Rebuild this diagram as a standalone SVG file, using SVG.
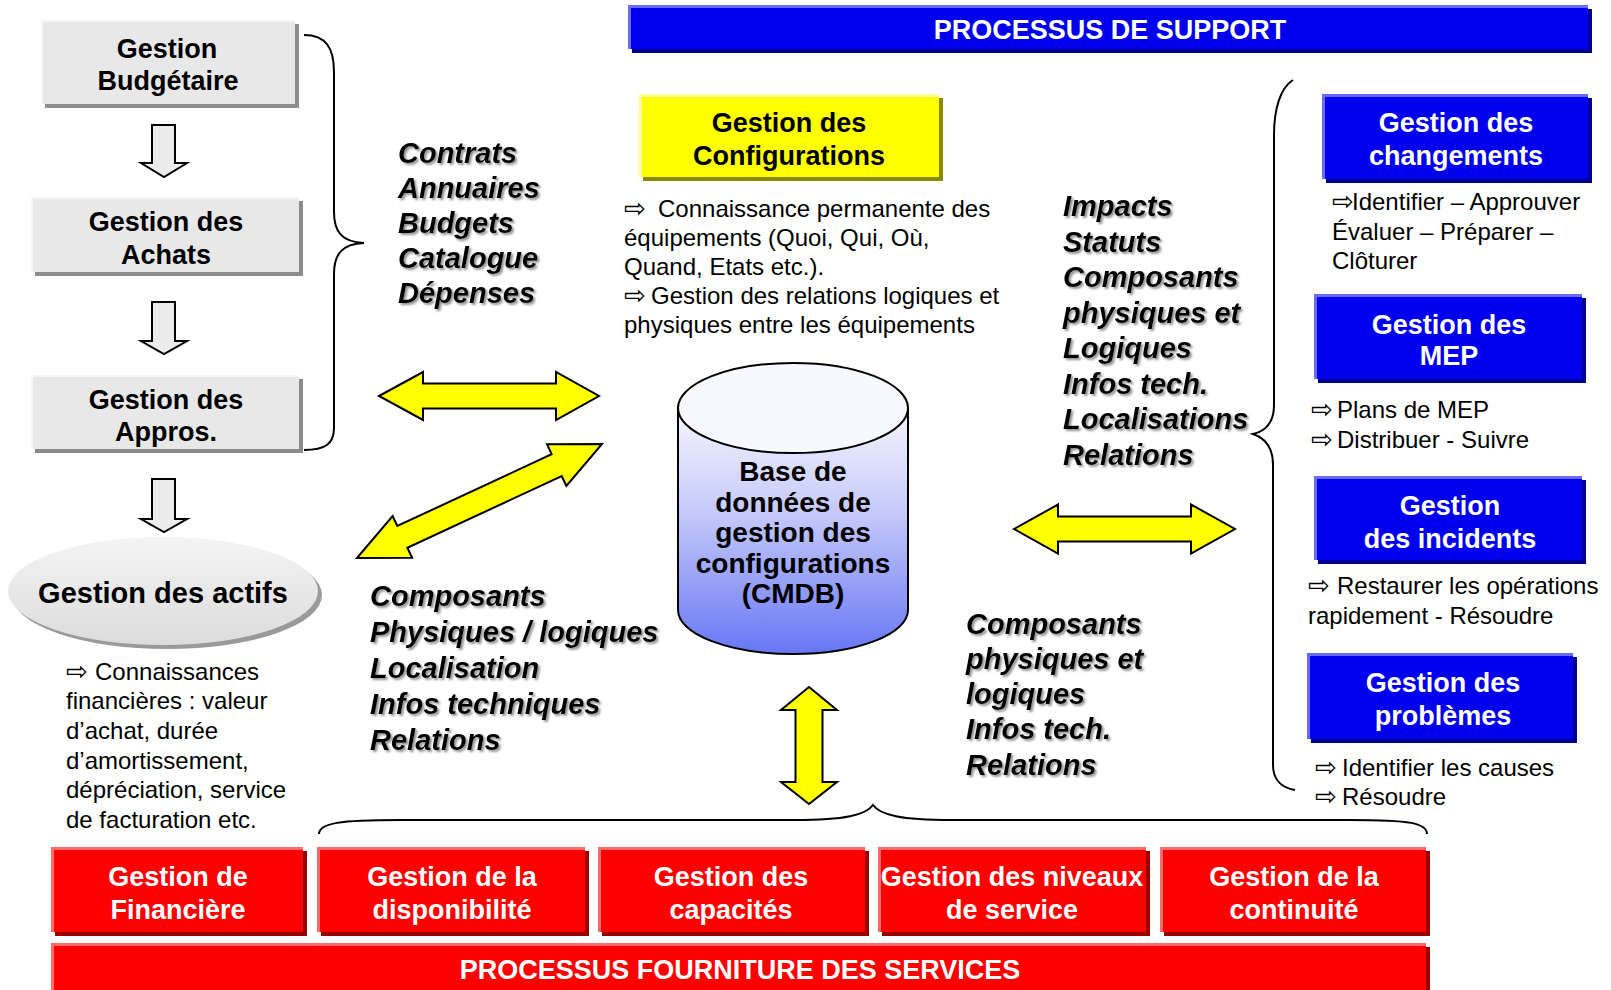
<svg xmlns="http://www.w3.org/2000/svg" width="1611" height="990" viewBox="0 0 1611 990">
<defs>
<style>
text{font-family:"Liberation Sans",Arial,sans-serif;fill:#000}
.nb{font-weight:bold;font-size:27px;text-anchor:middle}
.w{fill:#fff}
.it{font-weight:bold;font-style:italic;font-size:29px}
.p{font-size:24px}
.ar{font-family:"DejaVu Sans",sans-serif;font-size:26px}
.brace{fill:none;stroke:#000;stroke-width:2}
.yarrow{fill:#ffff00;stroke:#000;stroke-width:2;stroke-linejoin:miter}
.garrow{fill:#ececec;stroke:#000;stroke-width:2}
.gbox{fill:#e8e8e8}
.gsh{fill:#8c8c8c}
.glt{fill:none;stroke:#f6f6f6;stroke-width:2}
.bbox{fill:#0000ee}
.bsh{fill:#000090}
.blt{fill:none;stroke:#6a6aff;stroke-width:3}
.rbox{fill:#ff0000}
.rsh{fill:#990000}
.rlt{fill:none;stroke:#ff6a6a;stroke-width:3}
.ybox{fill:#ffff00}
.ysh{fill:#8a8a00}
.ylt{fill:none;stroke:#ffff99;stroke-width:3}
</style>
<filter id="tsh" x="-10%" y="-10%" width="130%" height="130%">
<feDropShadow dx="2" dy="2" stdDeviation="1" flood-color="#777" flood-opacity="0.8"/>
</filter>
<linearGradient id="cyl" gradientUnits="userSpaceOnUse" x1="0" y1="400" x2="0" y2="655">
<stop offset="0" stop-color="#fafaff"/>
<stop offset="0.45" stop-color="#c4c8fa"/>
<stop offset="1" stop-color="#6676f4"/>
</linearGradient>
<linearGradient id="ell" x1="0" y1="0" x2="0" y2="1">
<stop offset="0" stop-color="#f4f4f4"/>
<stop offset="1" stop-color="#dcdcdc"/>
</linearGradient>
</defs>
<rect width="1611" height="990" fill="#fff"/>

<!-- Support header -->
<g id="support-header">
<rect class="bsh" x="632" y="9" width="960" height="44"/>
<rect class="bbox" x="628" y="5" width="960" height="44"/>
<polyline class="blt" points="629.5,49 629.5,6.5 1588,6.5"/>
<text class="nb w" x="1110" y="39">PROCESSUS DE SUPPORT</text>
</g>

<!-- Left column -->
<g id="gestion-budgetaire">
<rect class="gsh" x="45" y="24" width="254" height="84"/>
<rect class="gbox" x="41" y="20" width="254" height="84"/>
<polyline class="glt" points="42,104 42,21 295,21"/>
<text class="nb" x="167" y="58">Gestion</text>
<text class="nb" x="168" y="90">Budgétaire</text>
</g>
<g id="gestion-achats">
<rect class="gsh" x="35" y="201" width="268" height="75"/>
<rect class="gbox" x="31" y="197" width="268" height="75"/>
<polyline class="glt" points="32,272 32,198 299,198"/>
<text class="nb" x="166" y="231">Gestion des</text>
<text class="nb" x="166" y="264">Achats</text>
</g>
<g id="gestion-appros">
<rect class="gsh" x="35" y="379" width="268" height="74"/>
<rect class="gbox" x="31" y="375" width="268" height="74"/>
<polyline class="glt" points="32,449 32,376 299,376"/>
<text class="nb" x="166" y="409">Gestion des</text>
<text class="nb" x="166" y="441">Appros.</text>
</g>
<g id="gestion-actifs">
<ellipse cx="167" cy="595" rx="155" ry="54" fill="#9a9a9a"/>
<ellipse cx="163" cy="591" rx="155" ry="54" fill="url(#ell)"/>
<text class="nb" x="163" y="603" style="font-size:29px">Gestion des actifs</text>
</g>
<g id="actifs-notes">
<text class="p" x="66" y="680"><tspan class="ar">⇨</tspan><tspan x="95">Connaissances</tspan></text>
<text class="p" x="66" y="709">financières : valeur</text>
<text class="p" x="66" y="739">d’achat, durée</text>
<text class="p" x="66" y="769">d’amortissement,</text>
<text class="p" x="66" y="798">dépréciation, service</text>
<text class="p" x="66" y="828">de facturation etc.</text>
</g>

<g id="flux-contrats" filter="url(#tsh)">
<text class="it" x="398" y="163">Contrats</text>
<text class="it" x="398" y="198">Annuaires</text>
<text class="it" x="398" y="233">Budgets</text>
<text class="it" x="398" y="268">Catalogue</text>
<text class="it" x="398" y="303">Dépenses</text>
</g>

<!-- Configurations -->
<g id="gestion-configurations">
<rect class="ysh" x="643" y="98" width="300" height="83"/>
<rect class="ybox" x="639" y="94" width="300" height="83"/>
<polyline class="ylt" points="640.5,177 640.5,95.5 939,95.5"/>
<text class="nb" x="789" y="132">Gestion des</text>
<text class="nb" x="789" y="165">Configurations</text>
</g>
<g id="configurations-notes">
<text class="p" x="624" y="217"><tspan class="ar">⇨</tspan><tspan x="658">Connaissance permanente des</tspan></text>
<text class="p" x="624" y="246">équipements (Quoi, Qui, Où,</text>
<text class="p" x="624" y="275">Quand, Etats etc.).</text>
<text class="p" x="624" y="304"><tspan class="ar">⇨</tspan><tspan x="651">Gestion des relations logiques et</tspan></text>
<text class="p" x="624" y="333">physiques entre les équipements</text>
</g>

<g id="cmdb">
<path d="M678,408 L678,610 A115,44 0 0 0 908,610 L908,408 Z" fill="url(#cyl)" stroke="#000" stroke-width="2"/>
<ellipse cx="793" cy="408" rx="115" ry="45" fill="#f8f8ff" stroke="#000" stroke-width="2"/>
<text class="nb" x="793" y="481" style="font-size:28px">Base de</text>
<text class="nb" x="793" y="512" style="font-size:28px">données de</text>
<text class="nb" x="793" y="542" style="font-size:28px">gestion des</text>
<text class="nb" x="793" y="573" style="font-size:28px">configurations</text>
<text class="nb" x="793" y="603" style="font-size:28px">(CMDB)</text>
</g>

<g id="flux-impacts" filter="url(#tsh)">
<text class="it" x="1063" y="216">Impacts</text>
<text class="it" x="1063" y="252">Statuts</text>
<text class="it" x="1063" y="287">Composants</text>
<text class="it" x="1063" y="323">physiques et</text>
<text class="it" x="1063" y="358">Logiques</text>
<text class="it" x="1063" y="394">Infos tech.</text>
<text class="it" x="1063" y="429">Localisations</text>
<text class="it" x="1063" y="465">Relations</text>
</g>
<g id="flux-composants-gauche" filter="url(#tsh)">
<text class="it" x="370" y="606">Composants</text>
<text class="it" x="370" y="642">Physiques / logiques</text>
<text class="it" x="370" y="678">Localisation</text>
<text class="it" x="370" y="714">Infos techniques</text>
<text class="it" x="370" y="750">Relations</text>
</g>
<g id="flux-composants-droite" filter="url(#tsh)">
<text class="it" x="966" y="634">Composants</text>
<text class="it" x="966" y="669">physiques et</text>
<text class="it" x="966" y="704">logiques</text>
<text class="it" x="966" y="739">Infos tech.</text>
<text class="it" x="966" y="775">Relations</text>
</g>

<!-- Right column -->
<g id="gestion-changements">
<rect class="bsh" x="1326" y="98" width="266" height="85"/>
<rect class="bbox" x="1322" y="94" width="266" height="85"/>
<polyline class="blt" points="1323.5,179 1323.5,95.5 1588,95.5"/>
<text class="nb w" x="1456" y="132">Gestion des</text>
<text class="nb w" x="1456" y="165">changements</text>
</g>
<g id="changements-notes">
<text class="p" x="1332" y="210"><tspan class="ar">⇨</tspan><tspan x="1352">Identifier – Approuver</tspan></text>
<text class="p" x="1332" y="240">Évaluer – Préparer –</text>
<text class="p" x="1332" y="269">Clôturer</text>
</g>
<g id="gestion-mep">
<rect class="bsh" x="1318" y="298" width="268" height="85"/>
<rect class="bbox" x="1314" y="294" width="268" height="85"/>
<polyline class="blt" points="1315.5,379 1315.5,295.5 1582,295.5"/>
<text class="nb w" x="1449" y="334">Gestion des</text>
<text class="nb w" x="1449" y="365">MEP</text>
</g>
<g id="mep-notes">
<text class="p" x="1311" y="418"><tspan class="ar">⇨</tspan><tspan x="1337">Plans de MEP</tspan></text>
<text class="p" x="1311" y="448"><tspan class="ar">⇨</tspan><tspan x="1337">Distribuer - Suivre</tspan></text>
</g>
<g id="gestion-incidents">
<rect class="bsh" x="1318" y="480" width="268" height="84"/>
<rect class="bbox" x="1314" y="476" width="268" height="84"/>
<polyline class="blt" points="1315.5,560 1315.5,477.5 1582,477.5"/>
<text class="nb w" x="1450" y="515">Gestion</text>
<text class="nb w" x="1450" y="548">des incidents</text>
</g>
<g id="incidents-notes">
<text class="p" x="1308" y="594"><tspan class="ar">⇨</tspan><tspan x="1337">Restaurer les opérations</tspan></text>
<text class="p" x="1308" y="624">rapidement - Résoudre</text>
</g>
<g id="gestion-problemes">
<rect class="bsh" x="1311" y="657" width="266" height="86"/>
<rect class="bbox" x="1307" y="653" width="266" height="86"/>
<polyline class="blt" points="1308.5,739 1308.5,654.5 1573,654.5"/>
<text class="nb w" x="1443" y="692">Gestion des</text>
<text class="nb w" x="1443" y="725">problèmes</text>
</g>
<g id="problemes-notes">
<text class="p" x="1315" y="776"><tspan class="ar">⇨</tspan><tspan x="1342">Identifier les causes</tspan></text>
<text class="p" x="1315" y="805"><tspan class="ar">⇨</tspan><tspan x="1342">Résoudre</tspan></text>
</g>

<!-- Service delivery -->
<g id="gestion-financiere">
<rect class="rsh" x="55" y="851" width="252" height="85"/>
<rect class="rbox" x="51" y="847" width="252" height="85"/>
<polyline class="rlt" points="52.5,932 52.5,848.5 303,848.5"/>
<text class="nb w" x="178" y="886">Gestion de</text>
<text class="nb w" x="178" y="919">Financière</text>
</g>
<g id="gestion-disponibilite">
<rect class="rsh" x="321" y="851" width="268" height="85"/>
<rect class="rbox" x="317" y="847" width="268" height="85"/>
<polyline class="rlt" points="318.5,932 318.5,848.5 585,848.5"/>
<text class="nb w" x="452" y="886">Gestion de la</text>
<text class="nb w" x="452" y="919">disponibilité</text>
</g>
<g id="gestion-capacites">
<rect class="rsh" x="602" y="851" width="267" height="85"/>
<rect class="rbox" x="598" y="847" width="267" height="85"/>
<polyline class="rlt" points="599.5,932 599.5,848.5 865,848.5"/>
<text class="nb w" x="731" y="886">Gestion des</text>
<text class="nb w" x="731" y="919">capacités</text>
</g>
<g id="gestion-niveaux-service">
<rect class="rsh" x="882" y="851" width="268" height="85"/>
<rect class="rbox" x="878" y="847" width="268" height="85"/>
<polyline class="rlt" points="879.5,932 879.5,848.5 1146,848.5"/>
<text class="nb w" x="1012" y="886">Gestion des niveaux</text>
<text class="nb w" x="1012" y="919">de service</text>
</g>
<g id="gestion-continuite">
<rect class="rsh" x="1164" y="851" width="266" height="85"/>
<rect class="rbox" x="1160" y="847" width="266" height="85"/>
<polyline class="rlt" points="1161.5,932 1161.5,848.5 1426,848.5"/>
<text class="nb w" x="1294" y="886">Gestion de la</text>
<text class="nb w" x="1294" y="919">continuité</text>
</g>
<g id="fourniture-services">
<rect class="rsh" x="55" y="947" width="1375" height="50"/>
<rect class="rbox" x="51" y="943" width="1375" height="50"/>
<polyline class="rlt" points="52.5,993 52.5,944.5 1426,944.5"/>
<text class="nb w" x="740" y="979">PROCESSUS FOURNITURE DES SERVICES</text>
</g>

<!-- Connectors -->
<g id="connectors">
<polygon class="garrow" points="152,125 175,125 175,163 187,163 164,177 141,163 152,163"/>
<polygon class="garrow" points="152,302 175,302 175,341 187,341 164,354 141,341 152,341"/>
<polygon class="garrow" points="152,479 175,479 175,519 187,519 164,532 141,519 152,519"/>
<path class="brace" d="M304,35 C326,35 334,48 334,72 L334,212 C334,232 342,242 364,243 C342,244 334,254 334,274 L334,428 C334,444 325,450 304,450"/>
<path class="brace" d="M1293,80 C1280,88 1274,110 1274,135 L1274,405 C1274,422 1266,431 1253,434 C1265,438 1273,448 1273,465 L1273,765 C1273,780 1282,788 1295,790"/>
<path class="brace" d="M319,834 C319,823 340,820 400,820 L795,820 C845,820 866,815 873,805 C880,815 901,820 951,820 L1350,820 C1410,820 1427,823 1427,834"/>
<polygon class="yarrow" points="379,396 423,372 423,383.5 556,383.5 556,372 599,396 556,420 556,408.5 423,408.5 423,420"/>
<polygon class="yarrow" points="357,558 392.6,516 397.3,526 551.6,454.2 547,444.2 602,444 566.4,486 561.7,476 407.4,547.8 412.1,557.8"/>
<polygon class="yarrow" points="1014,529 1058,504.5 1058,516.5 1191,516.5 1191,504.5 1235,529 1191,553.5 1191,541.5 1058,541.5 1058,553.5"/>
<polygon class="yarrow" points="809,687 837,710 822.5,710 822.5,782 837,782 809,804 781,782 795.5,782 795.5,710 781,710"/>
</g>
</svg>
